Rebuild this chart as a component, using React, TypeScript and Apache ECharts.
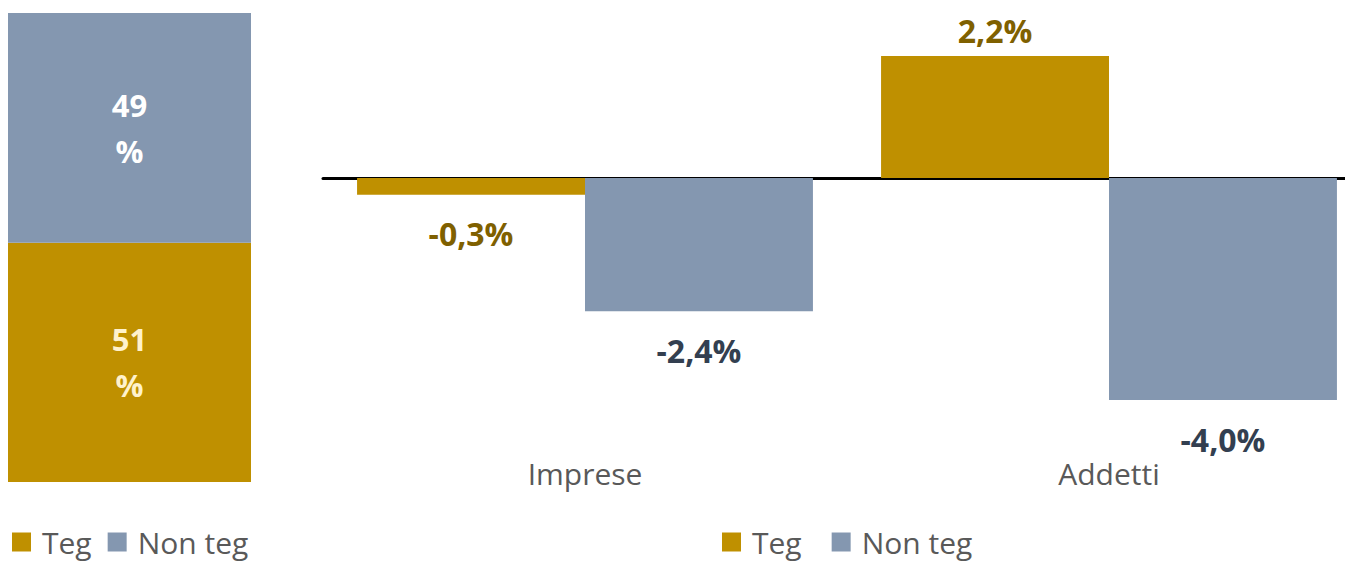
import React, { useEffect, useRef } from "react";
import * as echarts from "echarts";

const shareCategories = ["Totale"];
const shareTeg = [51];
const shareNonTeg = [49];

const changeCategories = ["Imprese", "Addetti"];
const changeTeg = [-0.3, 2.2];
const changeNonTeg = [-2.4, -4.0];

const legendNames = ["Teg", "Non teg"];

const GOLD = "#BF9000";
const BLUE = "#8497B0";
const GOLD_DARK = "#7F6000";
const NAVY = "#333F50";
const GREY = "#595959";
const FONT = "'Open Sans', 'Noto Sans', sans-serif";

const fmt = (v: number) => v.toFixed(1).replace(".", ",") + "%";

export default function App() {
  const ref = useRef<HTMLDivElement>(null);
  useEffect(() => {
    if (!ref.current) return;
    const chart = echarts.init(ref.current, undefined, { renderer: "svg" });
    const labelFor = (v: number, color: string) => ({
      value: v,
      label: {
        show: true,
        position: v < 0 ? "bottom" : "top",
        distance: v < 0 ? 23 : 9,
        color,
        fontFamily: FONT,
        fontWeight: "bold",
        fontSize: 32,
        formatter: () => fmt(v),
      },
    });
    const legendBase = {
      data: legendNames,
      top: 527,
      padding: 0,
      itemWidth: 19,
      itemHeight: 19,
      icon: "rect",
      textStyle: { color: GREY, fontSize: 30, lineHeight: 30, fontFamily: FONT, padding: [0, 0, 0, 6] },
    };
    chart.setOption({
      animation: false,
      textStyle: { fontFamily: FONT },
      legend: [
        { ...legendBase, left: 12, itemGap: 16 },
        { ...legendBase, left: 722, itemGap: 30 },
      ],
      grid: [
        { left: 8, top: 13, width: 243, height: 469 },
        { left: 323, top: 11.5, width: 1048, height: 444 },
      ],
      xAxis: [
        {
          gridIndex: 0,
          type: "category",
          data: shareCategories,
          show: false,
        },
        {
          gridIndex: 1,
          type: "category",
          data: changeCategories,
          position: "top",
          axisLine: { onZero: true, lineStyle: { color: "#000", width: 3 } },
          axisTick: { show: false },
          axisLabel: { show: false },
        },
        {
          gridIndex: 1,
          type: "category",
          data: changeCategories,
          position: "bottom",
          axisLine: { show: false, onZero: false },
          axisTick: { show: false },
          axisLabel: { color: GREY, fontSize: 30, fontFamily: FONT, margin: 3 },
        },
      ],
      yAxis: [
        { gridIndex: 0, type: "value", min: 0, max: 100, show: false },
        { gridIndex: 1, type: "value", min: -5, max: 3, show: false },
      ],
      series: [
        {
          name: "Teg",
          type: "bar",
          stack: "share",
          xAxisIndex: 0,
          yAxisIndex: 0,
          barWidth: "100%",
          data: shareTeg,
          itemStyle: { color: GOLD },
          label: {
            show: true,
            position: "inside",
            formatter: "{c}\n%",
            color: "#FFF2CC",
            fontWeight: "bold",
            fontSize: 31,
            lineHeight: 46,
            fontFamily: FONT,
          },
        },
        {
          name: "Non teg",
          type: "bar",
          stack: "share",
          xAxisIndex: 0,
          yAxisIndex: 0,
          barWidth: "100%",
          data: shareNonTeg,
          itemStyle: { color: BLUE },
          label: {
            show: true,
            position: "inside",
            formatter: "{c}\n%",
            color: "#FFFFFF",
            fontWeight: "bold",
            fontSize: 31,
            lineHeight: 46,
            fontFamily: FONT,
          },
        },
        {
          name: "Teg",
          type: "bar",
          xAxisIndex: 1,
          yAxisIndex: 1,
          barGap: "0%",
          barCategoryGap: "13%",
          data: changeTeg.map((v) => labelFor(v, GOLD_DARK)),
          itemStyle: { color: GOLD },
        },
        {
          name: "Non teg",
          type: "bar",
          xAxisIndex: 1,
          yAxisIndex: 1,
          barGap: "0%",
          barCategoryGap: "13%",
          data: changeNonTeg.map((v) => labelFor(v, NAVY)),
          itemStyle: { color: BLUE },
        },
      ],
    });
    return () => chart.dispose();
  }, []);
  return (
    <div style={{ width: 1345, height: 561, position: "absolute", left: 0, top: 0, overflow: "hidden" }}>
      <div ref={ref} style={{ width: 1400, height: 561 }} />
    </div>
  );
}
